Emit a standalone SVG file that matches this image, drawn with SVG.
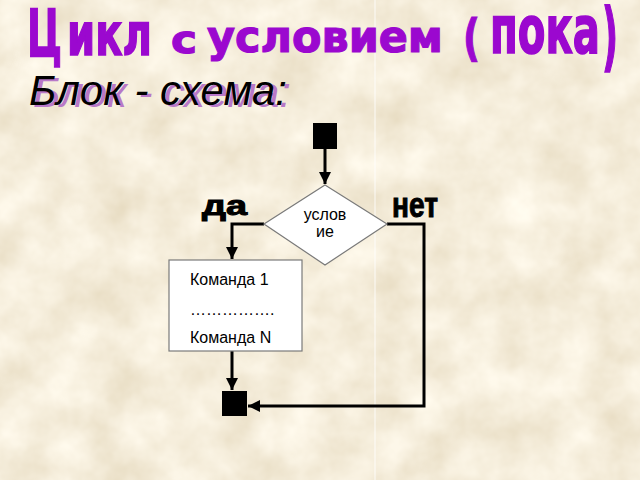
<svg xmlns="http://www.w3.org/2000/svg" width="640" height="480" viewBox="0 0 640 480">
  <defs>
    <filter id="paper" x="0" y="0" width="640" height="480" filterUnits="userSpaceOnUse">
      <feTurbulence type="fractalNoise" baseFrequency="0.022" numOctaves="4" seed="11" result="n"/>
      <feColorMatrix in="n" type="matrix" values="0.25 0 0 0 0.79  0.3 0 0 0 0.70  0.38 0 0 0 0.52  0 0 0 0 1"/>
    </filter>
    <marker id="arr" viewBox="0 0 10 10" refX="10" refY="5" markerWidth="4" markerHeight="4" orient="auto" markerUnits="strokeWidth">
      <path d="M0,0 L10,5 L0,10 z" fill="#000"/>
    </marker>
    <style>
      .title { font-family: "DejaVu Sans", "Liberation Sans", sans-serif; font-weight: bold; fill: #9B08CF; stroke: #9B08CF; stroke-width: 1.2; }
      .sub { font-family: "Liberation Sans", Arial, sans-serif; font-style: italic; font-size: 42px; }
      .lbl { font-family: "Liberation Sans", Arial, sans-serif; font-weight: bold; fill: #000; stroke: #000; stroke-width: 1; }
      .txt { font-family: "Liberation Sans", Arial, sans-serif; font-size: 16px; fill: #000; }
      .shape { fill: #fff; stroke: #7a7a7a; stroke-width: 1.2; }
      .term { fill: #000; }
      .conn { fill: none; stroke: #000; stroke-width: 3; marker-end: url(#arr); }
    </style>
  </defs>

  <rect x="0" y="0" width="640" height="480" fill="#E9D8B4"/>
  <rect x="0" y="0" width="640" height="480" filter="url(#paper)"/>
  <line x1="375" y1="0" x2="375" y2="480" stroke="#ffffff" stroke-opacity="0.85" stroke-width="1"/>

  <!-- Title -->
  <text class="title" transform="translate(27,57) scale(1,1.3)" font-size="50" textLength="35" lengthAdjust="spacingAndGlyphs">Ц</text>
  <text class="title" transform="translate(67,55) scale(1,1.35)" font-size="44" textLength="85" lengthAdjust="spacingAndGlyphs">икл</text>
  <text class="title" x="171" y="53" font-size="39" textLength="26" lengthAdjust="spacingAndGlyphs">с</text>
  <text class="title" x="207" y="52" font-size="45" textLength="236" lengthAdjust="spacingAndGlyphs">условием</text>
  <text class="title" x="463" y="55" font-size="50" textLength="17" lengthAdjust="spacingAndGlyphs">(</text>
  <text class="title" transform="translate(490,53) scale(1,1.45)" font-size="46" textLength="110" lengthAdjust="spacingAndGlyphs">пока</text>
  <text class="title" transform="translate(602,62) scale(1,1.48)" font-size="50" textLength="16" lengthAdjust="spacingAndGlyphs">)</text>

  <!-- Subtitle with shadow -->
  <text class="sub" x="33" y="107" fill="#B878C8" textLength="258" lengthAdjust="spacingAndGlyphs">Блок - схема:</text>
  <text class="sub" x="29" y="105" fill="#000" textLength="258" lengthAdjust="spacingAndGlyphs">Блок - схема:</text>

  <!-- Connectors -->
  <g id="connectors">
    <path class="conn" d="M325,149 L325,184"/>
    <path class="conn" d="M264,224 L232,224 L232,259"/>
    <path class="conn" d="M232,351 L232,390"/>
    <path class="conn" d="M387,224 L424,224 L424,406 L248,406"/>
  </g>

  <g id="start">
    <rect class="term" x="313" y="123" width="24" height="26"/>
  </g>

  <g id="condition">
    <polygon class="shape" points="325,185 387,224 325,265 264,224"/>
    <text class="txt" x="325" y="220" text-anchor="middle">услов</text>
    <text class="txt" x="325" y="237" text-anchor="middle">ие</text>
  </g>

  <g id="label-yes">
    <text class="lbl" x="202" y="215" font-size="27" textLength="45" lengthAdjust="spacingAndGlyphs">да</text>
  </g>
  <g id="label-no">
    <text class="lbl" x="392" y="217" font-size="35" textLength="46" lengthAdjust="spacingAndGlyphs">нет</text>
  </g>

  <g id="body">
    <rect class="shape" x="169" y="260" width="133" height="91"/>
    <text class="txt" x="190" y="285">Команда 1</text>
    <text class="txt" x="190" y="315">…………….</text>
    <text class="txt" x="190" y="343">Команда N</text>
  </g>

  <g id="end">
    <rect class="term" x="222" y="391" width="25" height="25"/>
  </g>
</svg>
